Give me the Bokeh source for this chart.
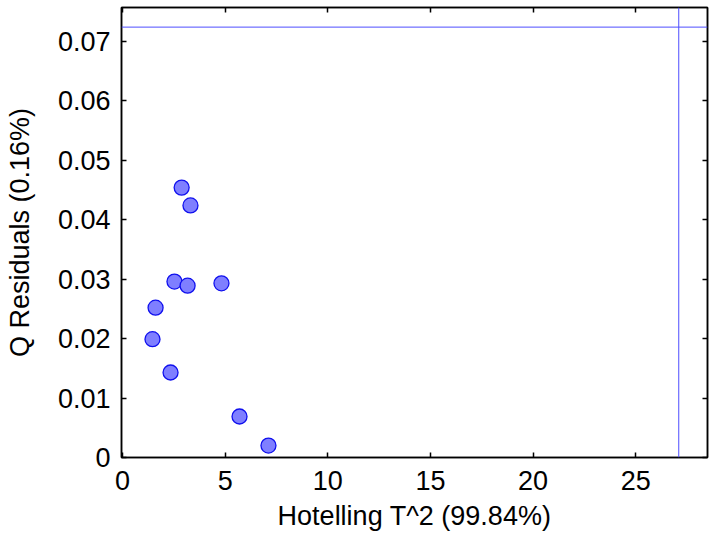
from bokeh.plotting import figure
from bokeh.models import Range1d, LinearAxis, Span, FixedTicker, ColumnDataSource
from bokeh.embed import file_html
from bokeh.resources import INLINE

# Data
hotelling_t2 = [2.88, 3.31, 2.53, 3.17, 4.82, 1.61, 1.46, 2.34, 5.70, 7.11]
q_residuals = [0.0454, 0.0424, 0.0296, 0.0289, 0.0293, 0.0252, 0.0199, 0.0143, 0.0069, 0.0020]
t2_limit = 27.1
q_limit = 0.0724
x_ticks = [0, 5, 10, 15, 20, 25]
y_ticks = [0, 0.01, 0.02, 0.03, 0.04, 0.05, 0.06, 0.07]
x_label = "Hotelling T^2 (99.84%)"
y_label = "Q Residuals (0.16%)"

FONT = "Liberation Sans"
FS = "27px"

p = figure(width=710, height=533, output_backend="svg", toolbar_location=None,
           x_range=Range1d(-0.05, 28.5), y_range=Range1d(0, 0.0757),
           x_axis_label=x_label, y_axis_label=y_label)
p.min_border_left = 121
p.min_border_right = 3
p.min_border_top = 7
p.min_border_bottom = 70
p.background_fill_color = "white"
p.border_fill_color = "white"
p.grid.visible = False
p.outline_line_color = "black"
p.outline_line_width = 1.5

for ax in p.xaxis + p.yaxis:
    ax.major_tick_in = 5
    ax.major_tick_out = 0
    ax.minor_tick_in = 0
    ax.minor_tick_out = 0
    ax.axis_line_color = "black"
    ax.axis_line_width = 1.5
    ax.major_tick_line_color = "black"
    ax.major_tick_line_width = 1.5
    ax.major_label_text_font = FONT
    ax.major_label_text_font_size = FS
    ax.major_label_text_color = "black"
    ax.axis_label_text_font = FONT
    ax.axis_label_text_font_size = FS
    ax.axis_label_text_font_style = "normal"
    ax.axis_label_text_color = "black"

p.xaxis.ticker = FixedTicker(ticks=x_ticks)
p.yaxis.ticker = FixedTicker(ticks=y_ticks)
p.xaxis.major_label_standoff = 13
p.yaxis.major_label_standoff = 11
p.xaxis.axis_label_standoff = 8
p.yaxis.axis_label_standoff = 20

top = LinearAxis(ticker=FixedTicker(ticks=x_ticks), major_tick_in=5, major_tick_out=0,
                 minor_tick_in=0, minor_tick_out=0, major_label_text_font_size="1px",
                 major_label_text_color=None, major_label_standoff=0,
                 axis_line_width=1.5, major_tick_line_width=1.5)
right = LinearAxis(ticker=FixedTicker(ticks=y_ticks), major_tick_in=5, major_tick_out=0,
                   minor_tick_in=0, minor_tick_out=0, major_label_text_font_size="1px",
                   major_label_text_color=None, major_label_standoff=0,
                   axis_line_width=1.5, major_tick_line_width=1.5)
p.add_layout(top, "above")
p.add_layout(right, "right")

p.add_layout(Span(location=t2_limit, dimension="height", line_color="#4d4dff", line_width=1))
p.add_layout(Span(location=q_limit, dimension="width", line_color="#4d4dff", line_width=1))

src = ColumnDataSource(data=dict(x=hotelling_t2, y=q_residuals))
p.scatter("x", "y", source=src, size=15, fill_color="#7f7fff", line_color="#1010ee", line_width=1.3)

open("out.html", "w").write(file_html(p, INLINE))
